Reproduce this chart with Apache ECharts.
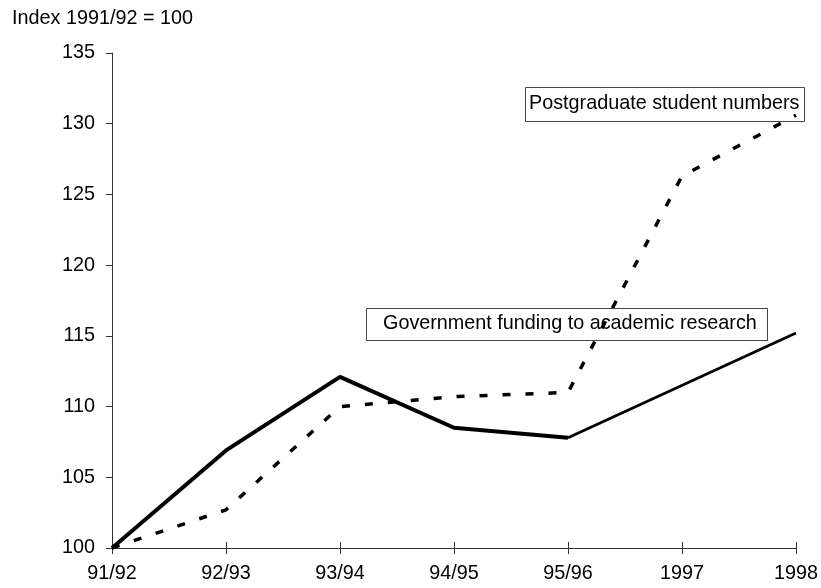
<!DOCTYPE html>
<html>
<head>
<meta charset="utf-8">
<script src="https://cdn.jsdelivr.net/npm/echarts@6/dist/echarts.min.js"></script>
<style>html,body{margin:0;padding:0;background:#fff}#c{width:821px;height:588px}</style>
</head>
<body>
<div id="c"></div>
<script>
const categories = ['91/92', '92/93', '93/94', '94/95', '95/96', '1997', '1998'];
const postgraduate = [100, 102.7, 110.0, 110.7, 111.0, 126.3, 130.6];
const fundingThick = [100, 106.9, 112.1, 108.5, 107.8, null, null];
const fundingThin = [null, null, null, null, 107.8, null, 115.2];
const yTicks = [100, 105, 110, 115, 120, 125, 130, 135];

const FONT = 'Liberation Sans, Arial, sans-serif';
const FS = 19.8;
const chart = echarts.init(document.getElementById('c'));
chart.setOption({
  animation: false,
  backgroundColor: '#fff',
  title: [
    { text: 'Index 1991/92 = 100', left: 12, top: 9, padding: 0,
      textStyle: { fontFamily: FONT, fontSize: FS, fontWeight: 'normal', color: '#000' } },
    { text: 'Postgraduate student numbers', left: 525, top: 87, padding: [7, 5, 8, 4],
      borderColor: '#444', borderWidth: 1,
      textStyle: { fontFamily: FONT, fontSize: FS, fontWeight: 'normal', color: '#000' } },
    { text: 'Government funding to academic research', left: 366, top: 308, padding: [6, 11, 7, 17],
      borderColor: '#444', borderWidth: 1,
      textStyle: { fontFamily: FONT, fontSize: FS, fontWeight: 'normal', color: '#000' } }
  ],
  grid: { left: 112, right: 21, top: 53, bottom: 40 },
  xAxis: [
    { type: 'category', data: categories, boundaryGap: false, position: 'bottom',
      axisLine: { lineStyle: { color: '#333', width: 1 } },
      axisTick: { inside: false, length: 6, lineStyle: { color: '#333' } },
      axisLabel: { margin: 16, color: '#000', fontFamily: FONT, fontSize: FS },
      splitLine: { show: false } },
    { type: 'category', data: categories, boundaryGap: false, position: 'bottom', offset: 0,
      axisLine: { show: false },
      axisTick: { inside: true, length: 6, lineStyle: { color: '#333' } },
      axisLabel: { show: false },
      splitLine: { show: false } }
  ],
  yAxis: {
    type: 'value', min: yTicks[0], max: yTicks[yTicks.length - 1], interval: 5,
    axisLine: { show: true, lineStyle: { color: '#333', width: 1 } },
    axisTick: { show: true, length: 6, lineStyle: { color: '#333' } },
    axisLabel: { margin: 17, color: '#000', fontFamily: FONT, fontSize: FS },
    splitLine: { show: false }
  },
  series: [
    { type: 'line', data: postgraduate, symbol: 'none',
      lineStyle: { color: '#000', width: 3.5, type: [8, 15], cap: 'butt' } },
    { type: 'line', data: fundingThick, symbol: 'none',
      lineStyle: { color: '#000', width: 4 } },
    { type: 'line', data: fundingThin, symbol: 'none', connectNulls: true,
      lineStyle: { color: '#000', width: 2.8 } }
  ]
});
</script>
</body>
</html>
